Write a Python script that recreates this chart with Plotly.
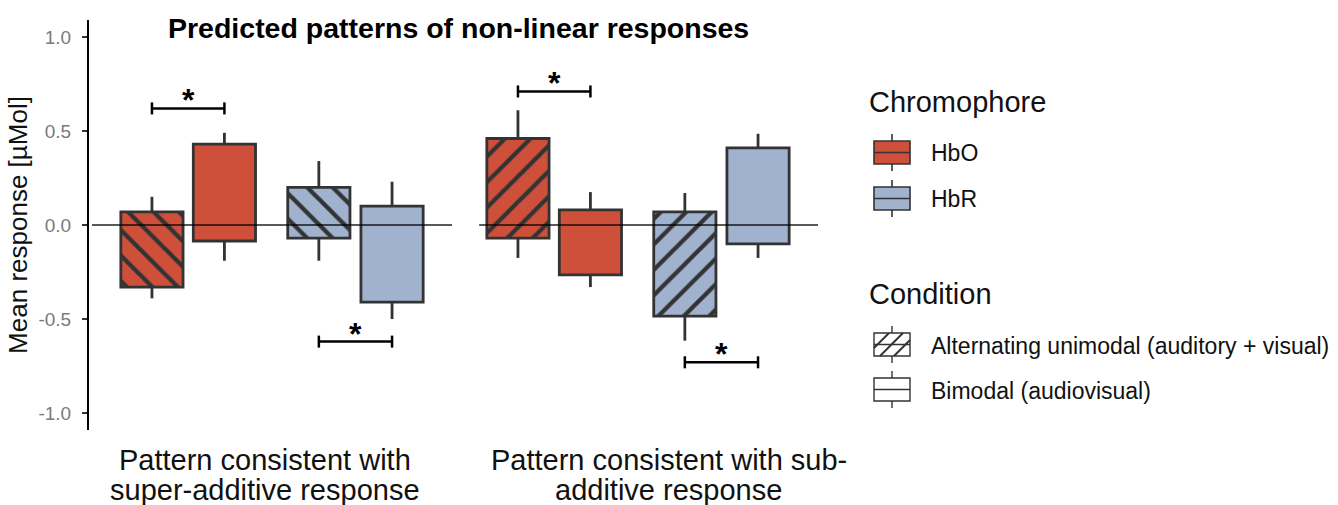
import plotly.graph_objects as go

# ---------------- data ----------------
group_line1 = ["Pattern consistent with", "Pattern consistent with sub-"]
group_line2 = ["super-additive response", "additive response"]

chromophores = ["HbO", "HbR"]
conditions = ["Alternating unimodal (auditory + visual)", "Bimodal (audiovisual)"]

# box (low/high) and whisker (low/high), one value per group
hbo_alt_low = [-0.33, -0.07]
hbo_alt_high = [0.07, 0.46]
hbo_alt_wlow = [-0.39, -0.175]
hbo_alt_whigh = [0.15, 0.61]

hbo_bim_low = [-0.085, -0.265]
hbo_bim_high = [0.43, 0.08]
hbo_bim_wlow = [-0.19, -0.33]
hbo_bim_whigh = [0.49, 0.175]

hbr_alt_low = [-0.07, -0.485]
hbr_alt_high = [0.20, 0.07]
hbr_alt_wlow = [-0.19, -0.615]
hbr_alt_whigh = [0.34, 0.17]

hbr_bim_low = [-0.41, -0.10]
hbr_bim_high = [0.10, 0.41]
hbr_bim_wlow = [-0.50, -0.175]
hbr_bim_whigh = [0.23, 0.485]

# significance brackets: y level per group (HbO pair, HbR pair)
sig_hbo_y = [0.62, 0.71]
sig_hbr_y = [-0.62, -0.73]

y_ticks = [1.0, 0.5, 0.0, -0.5, -1.0]
y_tick_text = ["1.0", "0.5", "0.0", "-0.5", "-1.0"]

# ---------------- style / layout ----------------
RED = "#CF503A"
BLUE = "#A0B2CE"
DARK = "#333333"
FONT = "Liberation Sans"

W, H = 1338, 505
L, T, R, B = 89, 20, 508, 75
PW, PH = W - L - R, H - T - B

group_spacing = 5.0
group_centers = [i * group_spacing for i in range(len(group_line1))]
slot_offsets = [-1.64, -0.65, 0.64, 1.64]
bar_width = 0.85
hatch_shapes = ["\\", "/"]

series = [
    dict(chrom="HbO", cond="alt", color=RED, low=hbo_alt_low, high=hbo_alt_high, wl=hbo_alt_wlow, wh=hbo_alt_whigh),
    dict(chrom="HbO", cond="bim", color=RED, low=hbo_bim_low, high=hbo_bim_high, wl=hbo_bim_wlow, wh=hbo_bim_whigh),
    dict(chrom="HbR", cond="alt", color=BLUE, low=hbr_alt_low, high=hbr_alt_high, wl=hbr_alt_wlow, wh=hbr_alt_whigh),
    dict(chrom="HbR", cond="bim", color=BLUE, low=hbr_bim_low, high=hbr_bim_high, wl=hbr_bim_wlow, wh=hbr_bim_whigh),
]

fig = go.Figure()

for k, s in enumerate(series):
    xs = [gc + slot_offsets[k] for gc in group_centers]
    heights = [h - l for h, l in zip(s["high"], s["low"])]
    pattern = dict(
        shape=hatch_shapes if s["cond"] == "alt" else "",
        fgcolor=DARK, bgcolor=s["color"], size=18, solidity=0.24, fillmode="replace",
    )
    fig.add_trace(go.Bar(
        x=xs, y=heights, base=s["low"], width=bar_width,
        marker=dict(color=s["color"], line=dict(color=DARK, width=2.8), pattern=pattern),
        name=f'{s["chrom"]} {s["cond"]}', showlegend=False, hoverinfo="skip",
    ))
    wx, wy = [], []
    for x, lo, hi, wl, wh in zip(xs, s["low"], s["high"], s["wl"], s["wh"]):
        wx += [x, x, None, x, x, None]
        wy += [hi, wh, None, wl, lo, None]
    fig.add_trace(go.Scatter(x=wx, y=wy, mode="lines", line=dict(color=DARK, width=2.8),
                             showlegend=False, hoverinfo="skip"))

shapes = []
annotations = []

# zero reference lines per group
zero_left = [-2.46, -2.17]
zero_right = [2.46, 2.46]
for gc, zl, zr in zip(group_centers, zero_left, zero_right):
    shapes.append(dict(type="line", xref="x", yref="y", x0=gc + zl, x1=gc + zr, y0=0, y1=0,
                       line=dict(color="rgba(0,0,0,0.65)", width=2.2), layer="above"))

# significance brackets
tick_h = 0.032
for gi, gc in enumerate(group_centers):
    for (a, b), yv in (((0, 1), sig_hbo_y[gi]), ((2, 3), sig_hbr_y[gi])):
        xa, xb = gc + slot_offsets[a], gc + slot_offsets[b]
        shapes.append(dict(type="line", xref="x", yref="y", x0=xa, x1=xb, y0=yv, y1=yv,
                           line=dict(color="black", width=2.5)))
        for xe in (xa, xb):
            shapes.append(dict(type="line", xref="x", yref="y", x0=xe, x1=xe, y0=yv - tick_h, y1=yv + tick_h,
                               line=dict(color="black", width=2.5)))
        annotations.append(dict(x=(xa + xb) / 2, y=yv, xref="x", yref="y", text="<b>*</b>",
                                showarrow=False, yanchor="middle", yshift=8,
                                font=dict(family=FONT, size=32, color="black")))

# group labels
label_offsets = [-0.1, 0.42]
for gc, lo, t1, t2 in zip(group_centers, label_offsets, group_line1, group_line2):
    annotations.append(dict(x=gc + lo, xref="x", y=-(460 - T - PH) / PH, yref="paper", text=t1,
                            showarrow=False, xanchor="center", yanchor="middle",
                            font=dict(family=FONT, size=29, color="#111111")))
    annotations.append(dict(x=gc + lo, xref="x", y=-(490 - T - PH) / PH, yref="paper", text=t2,
                            showarrow=False, xanchor="center", yanchor="middle",
                            font=dict(family=FONT, size=29, color="#111111")))


def px(x):
    return (x - L) / PW


def py(y):
    return (T + PH - y) / PH


annotations.append(dict(x=px(458), y=py(28), xref="paper", yref="paper",
                        text="<b>Predicted patterns of non-linear responses</b>", showarrow=False,
                        xanchor="center", yanchor="middle", font=dict(family=FONT, size=28.5, color="black")))

# ---------------- legend (drawn) ----------------
KX0, KX1 = 874, 910
KXM = (KX0 + KX1) / 2


def key(y0, y1, fill, lw, hatch=False):
    out = []
    out.append(dict(type="rect", xref="paper", yref="paper", x0=px(KX0), x1=px(KX1), y0=py(y1), y1=py(y0),
                    fillcolor=fill, line=dict(color=DARK, width=lw)))
    if hatch:
        for xb in (KX0 - 8, KX0 + 6, KX0 + 20):
            hgt = y1 - y0
            ax, ay = xb, y1
            bx, by = xb + hgt, y0
            if ax < KX0:
                ay = y1 - (KX0 - ax); ax = KX0
            if bx > KX1:
                by = y0 + (bx - KX1); bx = KX1
            if ax < bx:
                out.append(dict(type="line", xref="paper", yref="paper", x0=px(ax), y0=py(ay),
                                x1=px(bx), y1=py(by), line=dict(color=DARK, width=lw + 0.5)))
    ym = (y0 + y1) / 2
    out.append(dict(type="line", xref="paper", yref="paper", x0=px(KX0), x1=px(KX1), y0=py(ym), y1=py(ym),
                    line=dict(color=DARK, width=lw)))
    out.append(dict(type="line", xref="paper", yref="paper", x0=px(KXM), x1=px(KXM), y0=py(y0 - 7), y1=py(y0),
                    line=dict(color=DARK, width=lw)))
    out.append(dict(type="line", xref="paper", yref="paper", x0=px(KXM), x1=px(KXM), y0=py(y1), y1=py(y1 + 7),
                    line=dict(color=DARK, width=lw)))
    return out


legend_title_font = dict(family=FONT, size=29, color="#111111")
legend_item_font = dict(family=FONT, size=23, color="#111111")

annotations.append(dict(x=px(867), y=py(102), xref="paper", yref="paper", text="Chromophore",
                        showarrow=False, xanchor="left", yanchor="middle", font=legend_title_font))
chrom_rows = [(141, 164), (187, 210)]
for name, (y0, y1), col in zip(chromophores, chrom_rows, [RED, BLUE]):
    shapes += key(y0, y1, col, 1.6)
    annotations.append(dict(x=px(929), y=py((y0 + y1) / 2 + 1), xref="paper", yref="paper", text=name,
                            showarrow=False, xanchor="left", yanchor="middle", font=legend_item_font))

annotations.append(dict(x=px(867), y=py(294), xref="paper", yref="paper", text="Condition",
                        showarrow=False, xanchor="left", yanchor="middle", font=legend_title_font))
cond_rows = [(333, 356), (378, 401)]
for name, (y0, y1), hatch in zip(conditions, cond_rows, [True, False]):
    shapes += key(y0, y1, "white", 1.4, hatch=hatch)
    annotations.append(dict(x=px(929), y=py((y0 + y1) / 2 + 1), xref="paper", yref="paper", text=name,
                            showarrow=False, xanchor="left", yanchor="middle", font=legend_item_font))

fig.update_layout(
    width=W, height=H,
    margin=dict(l=L, r=R, t=T, b=B, pad=0),
    paper_bgcolor="white", plot_bgcolor="white",
    shapes=shapes, annotations=annotations,
    barmode="overlay", showlegend=False,
    xaxis=dict(range=[-2.5, 7.623], showgrid=False, zeroline=False, showticklabels=False,
               showline=False, ticks="", fixedrange=True),
    yaxis=dict(range=[-1.09, 1.09], showgrid=False, zeroline=False, showline=True,
               linecolor="black", linewidth=2, ticks="outside", ticklen=5, tickwidth=1.5,
               tickcolor="#333333", tickvals=y_ticks, ticktext=y_tick_text,
               ticklabelstandoff=7, fixedrange=True,
               tickfont=dict(family=FONT, size=19, color="#7a7a7a"),
               title=dict(text="Mean response [µMol]", standoff=3,
                          font=dict(family=FONT, size=26, color="#111111"))),
)

fig.write_html("out.html", config={"displayModeBar": False},
               post_script="document.body.style.margin='0px';document.body.style.overflow='hidden';")
